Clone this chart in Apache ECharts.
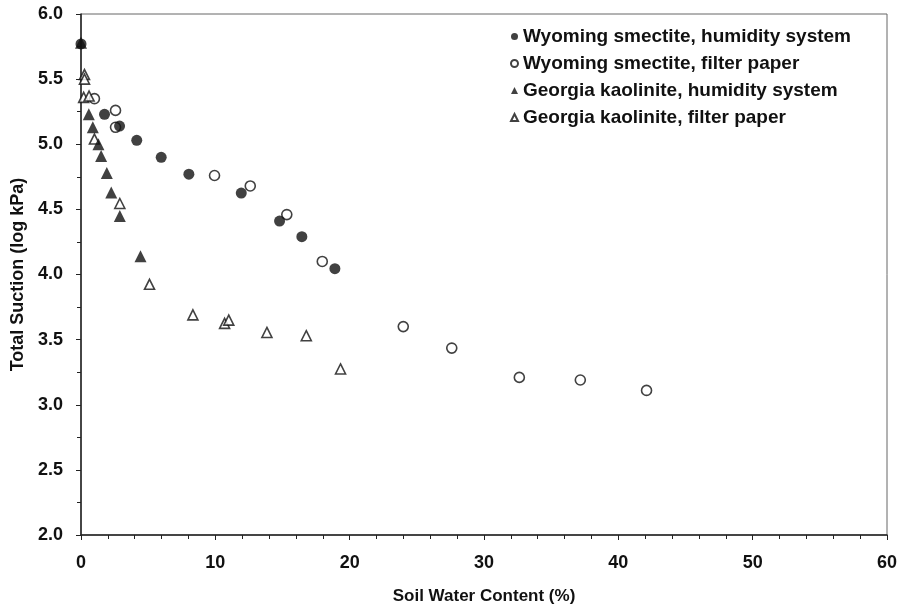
<!DOCTYPE html>
<html>
<head>
<meta charset="utf-8">
<script src="https://cdn.jsdelivr.net/npm/echarts@6/dist/echarts.min.js"></script>
<style>html,body{margin:0;padding:0;background:#fff}#c{width:902px;height:610px}</style>
</head>
<body>
<div id="c"></div>
<script>
// Data (x = soil water content %, y = total suction log kPa)
const seriesNames = [
  'Wyoming smectite, humidity system',
  'Wyoming smectite, filter paper',
  'Georgia kaolinite, humidity system',
  'Georgia kaolinite, filter paper'
];
const wyomingHumidity = [
  [0, 5.77], [1.75, 5.23], [2.87, 5.14], [4.15, 5.03], [5.97, 4.90],
  [8.03, 4.77], [11.93, 4.625], [14.78, 4.41], [16.44, 4.29], [18.9, 4.045]
];
const wyomingFilter = [
  [1.0, 5.35], [2.57, 5.26], [2.57, 5.13], [9.94, 4.76], [12.6, 4.68],
  [15.32, 4.46], [17.96, 4.10], [23.99, 3.60], [27.6, 3.435], [32.63, 3.21],
  [37.17, 3.19], [42.1, 3.11]
];
const georgiaHumidity = [
  [0, 5.78], [0.58, 5.23], [0.88, 5.13], [1.3, 5.0], [1.5, 4.91],
  [1.92, 4.78], [2.25, 4.63], [2.89, 4.45], [4.43, 4.14]
];
const georgiaFilter = [
  [0.26, 5.535], [0.26, 5.50], [0.2, 5.36], [0.6, 5.37], [1.0, 5.04],
  [2.89, 4.545], [5.1, 3.925], [8.33, 3.69], [10.69, 3.625], [11.0, 3.65],
  [13.84, 3.555], [16.77, 3.53], [19.32, 3.275]
];
const xTicks = [0, 10, 20, 30, 40, 50, 60];
const yTicks = [2.0, 2.5, 3.0, 3.5, 4.0, 4.5, 5.0, 5.5, 6.0];

const chart = echarts.init(document.getElementById('c'), null, {renderer: 'canvas'});
const font = '"Liberation Sans", Arial, sans-serif';
const filled = {color: '#111', borderColor: '#111', borderWidth: 0};
const open = {color: '#fff', borderColor: '#111', borderWidth: 1.6};
chart.setOption({
  animation: false,
  backgroundColor: '#fff',
  grid: {left: 81, top: 14, right: 15, bottom: 75, show: true, borderColor: '#666', borderWidth: 1},
  legend: {
    orient: 'vertical', left: 505, top: 22, itemGap: 8,
    itemWidth: 7, itemHeight: 7,
    textStyle: {fontFamily: font, fontWeight: 'bold', fontSize: 19, lineHeight: 19, color: '#111'},
    data: seriesNames
  },
  xAxis: {
    type: 'value', min: xTicks[0], max: xTicks[xTicks.length - 1], interval: 10,
    name: 'Soil Water Content (%)', nameLocation: 'middle', nameGap: 53,
    nameTextStyle: {fontFamily: font, fontWeight: 'bold', fontSize: 17, color: '#111'},
    axisLine: {lineStyle: {color: '#222', width: 1.5}},
    axisTick: {length: 5, lineStyle: {color: '#222'}},
    minorTick: {show: true, splitNumber: 5, length: 4, lineStyle: {color: '#222'}},
    splitLine: {show: false},
    axisLabel: {fontFamily: font, fontWeight: 'bold', fontSize: 18, color: '#111', margin: 19}
  },
  yAxis: {
    type: 'value', min: yTicks[0], max: yTicks[yTicks.length - 1], interval: 0.5,
    name: 'Total Suction (log kPa)', nameLocation: 'middle', nameGap: 50,
    nameTextStyle: {fontFamily: font, fontWeight: 'bold', fontSize: 18, color: '#111'},
    axisLine: {lineStyle: {color: '#222', width: 1.5}},
    axisTick: {length: 5, lineStyle: {color: '#222'}},
    minorTick: {show: true, splitNumber: 2, length: 4, lineStyle: {color: '#222'}},
    splitLine: {show: false},
    axisLabel: {fontFamily: font, fontWeight: 'bold', fontSize: 18, color: '#111', margin: 18,
      formatter: v => v.toFixed(1)}
  },
  series: [
    {name: seriesNames[0], type: 'scatter', symbol: 'circle', symbolSize: 11, itemStyle: filled, data: wyomingHumidity, z: 3},
    {name: seriesNames[1], type: 'scatter', symbol: 'circle', symbolSize: 10, itemStyle: open, data: wyomingFilter, z: 2},
    {name: seriesNames[2], type: 'scatter', symbol: 'triangle', symbolSize: 12, itemStyle: filled, data: georgiaHumidity, z: 4},
    {name: seriesNames[3], type: 'scatter', symbol: 'triangle', symbolSize: 10, itemStyle: open, data: georgiaFilter, z: 2}
  ]
});
</script>
</body>
</html>
